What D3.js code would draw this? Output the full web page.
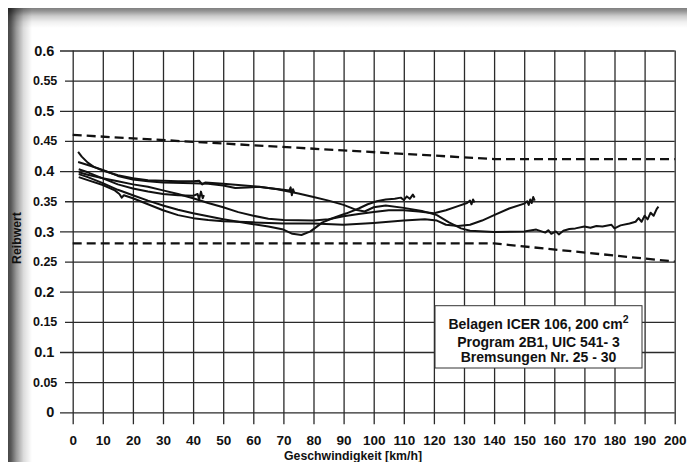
<!DOCTYPE html>
<html><head><meta charset="utf-8">
<script src="https://cdn.jsdelivr.net/npm/d3@7"></script>
<style>
html,body{margin:0;padding:0;background:#fff;}
svg{display:block;}
text{font-family:"Liberation Sans",Arial,sans-serif;font-weight:bold;fill:#111;}
</style></head>
<body>
<svg id="chart" width="687" height="462"></svg>
<script>
// ---- data ----
const xTicks = [0,10,20,30,40,50,60,70,80,90,100,110,120,130,140,150,160,170,180,190,200];
const yTicks = [0,0.05,0.1,0.15,0.2,0.25,0.3,0.35,0.4,0.45,0.5,0.55,0.6];
const xTitle = "Geschwindigkeit [km/h]";
const yTitle = "Reibwert";
const noteLines = ["Belagen ICER 106, 200 cm", "Program 2B1, UIC 541- 3", "Bremsungen Nr. 25 - 30"];

const limitUpper = [[0,0.46],[140,0.42],[200,0.42]];
const limitLower = [[0,0.28],[140,0.28],[200,0.25]];

const brake25 = [[2,0.403],[5,0.398],[10,0.388],[15,0.378],[20,0.371],[25,0.366],[30,0.362],[35,0.36],[40,0.359],[41.5,0.362],[42,0.353],[42.6,0.366],[43.2,0.355],[43.6,0.36]];
const brake26 = [[1.8,0.432],[3,0.424],[5,0.414],[7,0.407],[10,0.401],[15,0.393],[20,0.388],[25,0.385],[30,0.384],[35,0.383],[40,0.383],[42,0.384],[43,0.378],[44,0.381],[50,0.379],[55,0.377],[60,0.375],[65,0.372],[70,0.369],[72,0.368],[72.4,0.373],[72.8,0.36],[73.2,0.37],[73.6,0.364]];
const brake27 = [[2,0.395],[5,0.39],[10,0.38],[15,0.369],[20,0.36],[25,0.351],[30,0.343],[35,0.336],[40,0.33],[45,0.325],[50,0.32],[55,0.316],[60,0.312],[65,0.308],[70,0.303],[73,0.296],[76,0.294],[79,0.3],[83,0.315],[87,0.323],[91,0.33],[95,0.338],[98,0.345],[101,0.35],[104,0.353],[107,0.354],[109,0.356],[110,0.352],[111,0.358],[112,0.354],[113,0.361],[113.6,0.356]];
const brake28 = [[2,0.398],[5,0.394],[10,0.388],[15,0.383],[20,0.378],[25,0.374],[30,0.368],[35,0.362],[40,0.355],[45,0.347],[50,0.34],[55,0.332],[60,0.326],[65,0.321],[70,0.319],[80,0.318],[85,0.32],[90,0.325],[95,0.329],[100,0.332],[105,0.335],[110,0.335],[115,0.333],[120,0.33],[124,0.335],[128,0.342],[131,0.347],[132,0.351],[132.5,0.345],[133,0.353],[133.5,0.348]];
const brake29 = [[2,0.39],[5,0.385],[10,0.377],[14,0.368],[15.5,0.362],[16.3,0.356],[17,0.36],[20,0.355],[25,0.345],[30,0.335],[35,0.327],[40,0.322],[45,0.319],[50,0.317],[55,0.316],[60,0.315],[70,0.313],[80,0.313],[90,0.311],[100,0.314],[110,0.318],[117,0.32],[121,0.318],[124,0.311],[128,0.309],[132,0.311],[136,0.318],[140,0.327],[145,0.338],[150,0.346],[151,0.35],[151.5,0.344],[152,0.353],[152.5,0.347],[153,0.357],[153.5,0.351]];
const brake30 = [[1.8,0.415],[5,0.41],[10,0.402],[15,0.392],[20,0.386],[25,0.383],[30,0.381],[40,0.38],[45,0.379],[50,0.376],[54,0.372],[58,0.373],[62,0.374],[68,0.37],[75,0.363],[80,0.357],[85,0.351],[90,0.344],[94,0.336],[97,0.333],[100,0.34],[104,0.343],[110,0.339],[116,0.334],[121,0.327],[125,0.315],[129,0.305],[132,0.301],[140,0.299],[150,0.3],[154,0.303],[157,0.298],[158,0.302],[159,0.296],[160.5,0.3],[161.5,0.295],[163,0.301],[165,0.304],[167,0.305],[170,0.308],[172,0.306],[174,0.309],[176,0.308],[179,0.311],[180,0.305],[182,0.31],[185,0.313],[187,0.316],[188,0.322],[189,0.316],[190,0.326],[191,0.32],[192,0.331],[193,0.326],[194,0.337],[194.6,0.341]];
const brakings = [brake25, brake26, brake27, brake28, brake29, brake30];

// ---- chart ----
const svg = d3.select("#chart");
const W = 687, H = 462;
const x = d3.scaleLinear().domain([0,200]).range([72.7,674.7]);
const y = d3.scaleLinear().domain([0,0.6]).range([412.3,50.5]);

// frame shadow
const defs = svg.append("defs");
const gl = defs.append("linearGradient").attr("id","shL").attr("x1",0).attr("x2",1).attr("y1",0).attr("y2",0);
[[0,0.72],[0.12,0.66],[0.35,0.4],[0.65,0.14],[1,0]].forEach(s=>gl.append("stop").attr("offset",s[0]).attr("stop-color","#000").attr("stop-opacity",s[1]));
const gt = defs.append("linearGradient").attr("id","shT").attr("x1",0).attr("x2",0).attr("y1",0).attr("y2",1);
[[0,0.5],[0.15,0.42],[0.4,0.2],[0.7,0.06],[1,0]].forEach(s=>gt.append("stop").attr("offset",s[0]).attr("stop-color","#000").attr("stop-opacity",s[1]));
svg.append("rect").attr("x",0).attr("y",0).attr("width",W).attr("height",H).attr("fill","#fff");
svg.append("rect").attr("x",8).attr("y",8).attr("width",W-8).attr("height",20).attr("fill","url(#shT)");
svg.append("rect").attr("x",8).attr("y",8).attr("width",24).attr("height",H-8).attr("fill","url(#shL)");

// grid
const plotH = y(0) - y(0.6);
const plotW = x(200) - x(0);
const gx = svg.append("g").attr("transform",`translate(0,${y(0)})`)
  .call(d3.axisBottom(x).tickValues(xTicks).tickFormat(d3.format("d")).tickSizeInner(12).tickSizeOuter(0).tickPadding(11));
gx.select(".domain").remove();
gx.selectAll(".tick line").attr("y1",-plotH).attr("stroke","#2a2a2a").attr("stroke-width",1.3);
gx.selectAll(".tick text").attr("font-size","13.5px").attr("fill","#111");

const isShort = d => String(d).length <= 3;
const gy = svg.append("g").attr("transform",`translate(${x(0)},0)`)
  .call(d3.axisLeft(y).tickValues(yTicks).tickFormat(d=>String(+d.toFixed(2))).tickSizeInner(12.7).tickSizeOuter(0).tickPadding(6));
gy.select(".domain").remove();
gy.selectAll(".tick line").attr("x2",plotW).attr("x1",d=>isShort(+d.toFixed(2))?-12.7:-7.7).attr("stroke","#2a2a2a").attr("stroke-width",1.3);
gy.selectAll(".tick text")
  .attr("x",d=>isShort(+d.toFixed(2))?-18.4:-15.4)
  .attr("font-size",d=>isShort(+d.toFixed(2))?"14.5px":"12.5px").attr("fill","#111");

// limit lines
const line = d3.line().x(d=>x(d[0])).y(d=>y(d[1]));
[limitUpper, limitLower].forEach(l=>{
  svg.append("path").attr("d",line(l)).attr("fill","none").attr("stroke","#111")
    .attr("stroke-width",2.3).attr("stroke-dasharray","9,5");
});

// braking curves
svg.append("g").selectAll("path").data(brakings).join("path")
  .attr("d",line).attr("fill","none").attr("stroke","#111").attr("stroke-width",2)
  .attr("stroke-linejoin","round");

// note box
svg.append("rect").attr("x",435).attr("y",305.7).attr("width",207).attr("height",62.3)
  .attr("fill","#fff").attr("stroke","#333").attr("stroke-width",1);
const nt = svg.append("text").attr("x",538.5).attr("y",329.3).attr("text-anchor","middle").attr("font-size","14px");
nt.append("tspan").text(noteLines[0]);
nt.append("tspan").attr("font-size","10.5px").attr("dy","-6").text("2");
svg.append("text").attr("x",538.5).attr("y",346.5).attr("text-anchor","middle").attr("font-size","14px").text(noteLines[1]);
svg.append("text").attr("x",538.5).attr("y",362.3).attr("text-anchor","middle").attr("font-size","14px").text(noteLines[2]);

// titles
svg.append("text").attr("x",353).attr("y",460).attr("text-anchor","middle").attr("font-size","12.3px").text(xTitle);
svg.append("text").attr("transform","translate(21,238) rotate(-90)").attr("text-anchor","middle").attr("font-size","12.3px").text(yTitle);
</script>
</body></html>
